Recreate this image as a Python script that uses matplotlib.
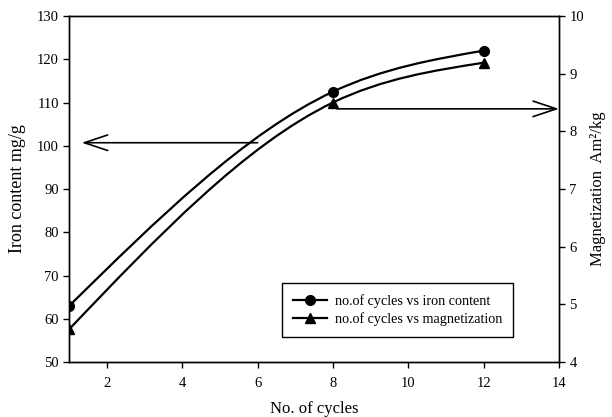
import numpy as np
import matplotlib.pyplot as plt
from matplotlib.path import Path
from matplotlib.patches import PathPatch

plt.rcParams['font.family'] = ['Liberation Serif', 'DejaVu Serif']

cycles = [1, 8, 12]
iron_content = [63.0, 112.5, 122.0]
magnetization = [4.57, 8.5, 9.19]
x_ticks = [2, 4, 6, 8, 10, 12, 14]


def spline_path(xs, ys):
    # natural cubic spline written as bezier segments
    xs = np.asarray(xs, float)
    ys = np.asarray(ys, float)
    n = len(xs)
    h = np.diff(xs)
    s = np.diff(ys) / h
    A = np.zeros((n, n))
    b = np.zeros(n)
    A[0, 0] = A[-1, -1] = 1
    for i in range(1, n - 1):
        A[i, i - 1] = h[i - 1]
        A[i, i] = 2 * (h[i - 1] + h[i])
        A[i, i + 1] = h[i]
        b[i] = 6 * (s[i] - s[i - 1])
    M = np.linalg.solve(A, b)
    d = np.zeros(n)
    for i in range(n - 1):
        d[i] = s[i] - h[i] * (2 * M[i] + M[i + 1]) / 6
    d[-1] = s[-1] + h[-1] * (M[-2] + 2 * M[-1]) / 6
    verts = [(xs[0], ys[0])]
    codes = [Path.MOVETO]
    for i in range(n - 1):
        verts += [(xs[i] + h[i] / 3, ys[i] + d[i] * h[i] / 3),
                  (xs[i + 1] - h[i] / 3, ys[i + 1] - d[i + 1] * h[i] / 3),
                  (xs[i + 1], ys[i + 1])]
        codes += [Path.CURVE4] * 3
    return Path(verts, codes)


fig = plt.figure(figsize=(6.12, 4.17), dpi=100)
ax = fig.add_axes([0.1132, 0.1319, 0.8002, 0.8297])
ax2 = ax.twinx()

ax.add_patch(PathPatch(spline_path(cycles, iron_content), fill=False,
                       lw=1.6, edgecolor='black'))
ax.plot(cycles, iron_content, 'o', color='black', ms=7)
ax2.add_patch(PathPatch(spline_path(cycles, magnetization), fill=False,
                        lw=1.6, edgecolor='black'))
ax2.plot(cycles, magnetization, '^', color='black', ms=7)

ax.set_xlim(1, 14)
ax.set_ylim(50, 130)
ax2.set_ylim(4, 10)
ax.set_xticks(x_ticks)
ax.set_yticks(range(50, 131, 10))
ax2.set_yticks(range(4, 11))

for a in (ax, ax2):
    a.tick_params(direction='out', length=4, width=1, labelsize=10.5)
    for sp in a.spines.values():
        sp.set_linewidth(1)
ax.tick_params(axis='x', pad=7)

ax.set_xlabel('No. of cycles', fontsize=12, labelpad=8)
ax.set_ylabel('Iron content mg/g', fontsize=13, labelpad=8)
ax2.set_ylabel('Magnetization  Am²/kg', fontsize=12, labelpad=4)

# arrows pointing to the matching axes
head = '->, head_length=0.6, head_width=0.2'
ax.annotate('', xy=(1.33, 100.7), xytext=(6.0, 100.7),
            arrowprops=dict(arrowstyle=head, lw=1.2, mutation_scale=28,
                            color='black', shrinkA=0, shrinkB=0))
ax2.annotate('', xy=(14, 8.39), xytext=(8.1, 8.39),
             arrowprops=dict(arrowstyle=head, lw=1.2, mutation_scale=28,
                             color='black', shrinkA=0, shrinkB=0))

h1 = plt.Line2D([], [], color='black', marker='o', lw=1.6, ms=7)
h2 = plt.Line2D([], [], color='black', marker='^', lw=1.6, ms=7)
leg = ax.legend([h1, h2], ['no.of cycles vs iron content',
                           'no.of cycles vs magnetization'],
                loc='center', bbox_to_anchor=(0.650, 0.2566),
                bbox_transform=fig.transFigure, fontsize=10.2,
                fancybox=False, edgecolor='black', framealpha=1,
                handlelength=2.4, handletextpad=0.6, borderpad=0.75,
                labelspacing=0.3)
leg.get_frame().set_linewidth(1)

fig.savefig('out.png', dpi=100)
